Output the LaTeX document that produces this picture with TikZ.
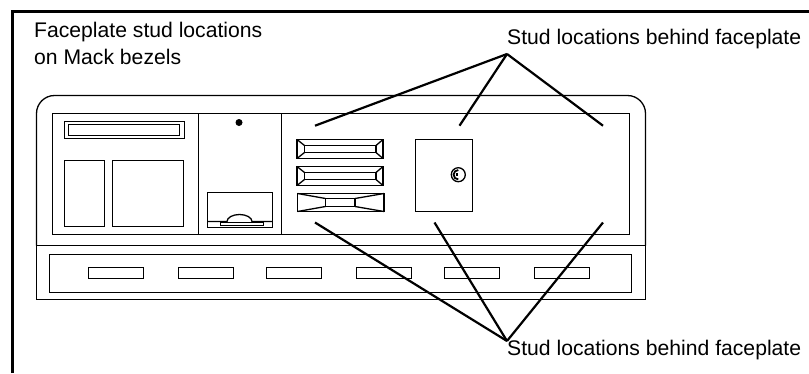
\documentclass[tikz,border=0pt]{standalone}
\usepackage{fontspec}
\setmainfont{Liberation Sans}
\tikzset{
  part/.style={draw=black, line width=1.3pt},
  leader/.style={draw=black, line width=2.2pt},
  callout/.style={anchor=base west, inner sep=0pt, font=\fontsize{21.15}{27}\selectfont, align=left}
}
\begin{document}
\begin{tikzpicture}[x=1pt, y=-1pt]
  \useasboundingbox (0,0) rectangle (809,373);
  % frame
  \draw[line width=3pt] (12.5,373) -- (12.5,11.5) -- (809,11.5);

  % bezel outline
  \draw[part, rounded corners=18pt] (36.5,245.5) -- (36.5,95.5) -- (645.5,95.5) -- (645.5,245.5);
  \draw[part] (36.5,245.5) rectangle (645.5,299.5);
  \draw[part] (52.5,113.5) rectangle (629.5,234.5);
  \draw[part] (198.5,113.5) -- (198.5,234.5);
  \draw[part] (281.5,113.5) -- (281.5,234.5);

  % left section
  \draw[part] (64.5,121.5) rectangle (184.5,138.5);
  \draw[part] (68.5,124.5) rectangle (179.5,135.5);
  \draw[part] (64.5,160.5) rectangle (104.5,226.5);
  \draw[part] (112.5,160.5) rectangle (183.5,226.5);

  % middle section
  \fill (239,122.5) circle (3.5pt);
  \draw[part] (207.5,192.5) rectangle (272.5,227.5);
  \draw[part] (207.5,221.5) -- (227,221.5) arc[start angle=180, end angle=0, x radius=12.5pt, y radius=7pt] -- (272.5,221.5);
  \draw[part] (220.5,222.5) rectangle (263.5,225.5);

  % drawer slots
  \foreach \ytop in {139.5,166.5}{
    \draw[part] (297,\ytop) rectangle (383,\ytop+19);
    \draw[part] (304.5,\ytop+6) rectangle (376,\ytop+13);
    \draw[part] (297,\ytop) -- (304.5,\ytop+6) (383,\ytop) -- (376,\ytop+6);
    \draw[part] (297,\ytop+19) -- (304.5,\ytop+13) (383,\ytop+19) -- (376,\ytop+13);
  }
  \draw[part] (297.5,193.5) rectangle (384,211.5);
  \draw[part] (325.5,198.5) rectangle (355,206.5);
  \draw[part] (297.5,193.5) -- (325.5,198.5) (384,193.5) -- (355,198.5);
  \draw[part] (297.5,211.5) -- (325.5,206.5) (384,211.5) -- (355,206.5);

  % door with lock
  \draw[part] (415.5,139.5) rectangle (472.5,211.5);
  \draw[part] (458.3,174.7) circle (7pt);
  \draw[line width=1.8pt] (458.3,170) arc[start angle=90, end angle=270, radius=4.7pt];
  \fill (458.3,174.7) ++(-2.5,-1.5) rectangle ++(2.5,3);

  % lower panel
  \draw[part] (49.5,254.5) rectangle (631.5,292.5);
  \foreach \xleft in {88.5,178.5,266.5,356.5,444.5,534.5}
    \draw[part] (\xleft,267.5) rectangle (\xleft+55,278.5);

  % labels
  \node[callout] (title) at (34,64) {Faceplate stud locations\\on Mack bezels};
  \node[callout] (labeltop) at (507,44) {Stud locations behind faceplate};
  \node[callout] (labelbottom) at (507,355.5) {Stud locations behind faceplate};

  % stud leaders
  \coordinate (apextop) at (507,54);
  \coordinate (apexbottom) at (507,341);
  \coordinate (studa) at (315,125.7);
  \coordinate (studb) at (459.5,125.7);
  \coordinate (studc) at (603,125.7);
  \coordinate (studd) at (315,222.5);
  \coordinate (stude) at (434.5,222.5);
  \coordinate (studf) at (603,222.5);
  \draw[leader] (studa) -- (apextop);
  \draw[leader] (studb) -- (apextop);
  \draw[leader] (studc) -- (apextop);
  \draw[leader] (studd) -- (apexbottom);
  \draw[leader] (stude) -- (apexbottom);
  \draw[leader] (studf) -- (apexbottom);
\end{tikzpicture}
\end{document}
